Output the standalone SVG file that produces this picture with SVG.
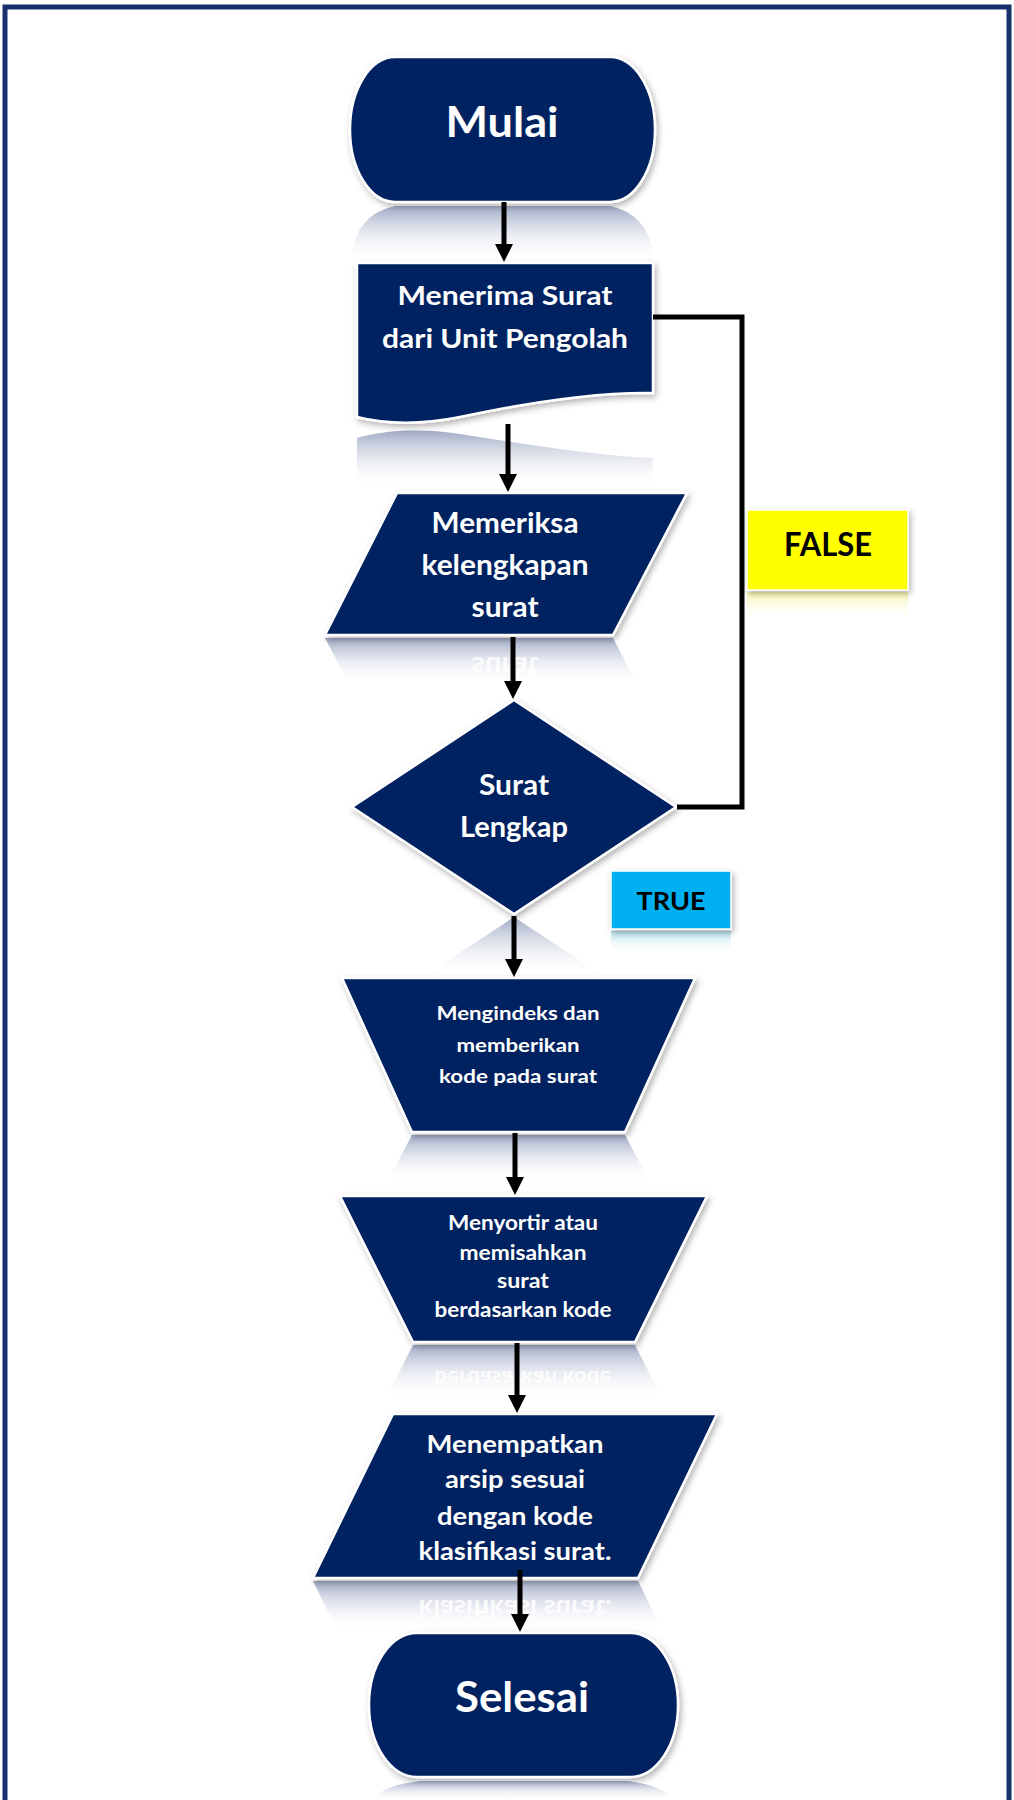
<svg xmlns="http://www.w3.org/2000/svg" width="1014" height="1800" viewBox="0 0 1014 1800">
<style>
.node{fill:#002060;stroke:#ffffff;stroke-width:2.5;filter:url(#sh)}
.refl{fill:url(#rg);stroke:none}
.t{font-family:Lato,"Liberation Sans",sans-serif;font-weight:bold;fill:#ffffff;text-anchor:middle}
.rt{font-family:Lato,"Liberation Sans",sans-serif;font-weight:bold;fill:#ffffff;fill-opacity:0.85;text-anchor:middle}
.lbl{font-family:Lato,"Liberation Sans",sans-serif;font-weight:bold;fill:#000000;text-anchor:middle}
.con{fill:none;stroke:#000000;stroke-width:5}
.arr{marker-end:url(#ah)}
</style>
<defs>
<filter id="sh" x="-10%" y="-10%" width="125%" height="130%">
<feDropShadow dx="2" dy="3" stdDeviation="3" flood-color="#000000" flood-opacity="0.3"/>
</filter>
<linearGradient id="rg" x1="0" y1="0" x2="0" y2="1">
<stop offset="0" stop-color="#8f9bbb" stop-opacity="0.85"/>
<stop offset="1" stop-color="#ffffff" stop-opacity="0"/>
</linearGradient>
<linearGradient id="ry" x1="0" y1="0" x2="0" y2="1">
<stop offset="0" stop-color="#f2f27a" stop-opacity="0.6"/>
<stop offset="1" stop-color="#ffffff" stop-opacity="0"/>
</linearGradient>
<linearGradient id="rc" x1="0" y1="0" x2="0" y2="1">
<stop offset="0" stop-color="#7fcfe8" stop-opacity="0.6"/>
<stop offset="1" stop-color="#ffffff" stop-opacity="0"/>
</linearGradient>
<marker id="ah" markerUnits="userSpaceOnUse" markerWidth="18" markerHeight="18" refX="2" refY="9" orient="auto">
<path d="M0,0 L18,9 L0,18 Z" fill="#000000"/>
</marker>
</defs>
<rect x="0" y="0" width="1014" height="1800" fill="#ffffff"/>
<rect x="5" y="7" width="1004" height="1800" fill="none" stroke="#17306b" stroke-width="5"/>

<g id="reflections">
<path class="refl" d="M395,206 H610 Q650,214 655,262 H350 Q355,214 395,206 Z"/>
<path class="refl" d="M357,438 C385,430 420,428 460,434 C530,445 600,456 653,458 V488 H357 Z"/>
<path class="refl" d="M325,638 H613 L637,684 H349 Z"/>
<path class="refl" d="M514,917 L605,977 H423 Z"/>
<path class="refl" d="M412,1135 H625 L650,1182 H387 Z"/>
<path class="refl" d="M413,1345 H635 L662,1398 H386 Z"/>
<path class="refl" d="M313,1581 H638 L662,1630 H337 Z"/>
<path class="refl" d="M420,1781 H628 Q665,1786 672,1800 H374 Q380,1786 420,1781 Z"/>
<rect x="747" y="592" width="161" height="28" fill="url(#ry)"/>
<rect x="611" y="931" width="120" height="22" fill="url(#rc)"/>
<text class="rt" x="505" y="617" font-size="28" textLength="67" lengthAdjust="spacingAndGlyphs" transform="matrix(1 0 0 -1 0 1274)">surat</text>
<text class="rt" x="523" y="1317" font-size="21" textLength="177" lengthAdjust="spacingAndGlyphs" transform="matrix(1 0 0 -1 0 2688)">berdasarkan kode</text>
<text class="rt" x="515" y="1560" font-size="25" textLength="193" lengthAdjust="spacingAndGlyphs" transform="matrix(1 0 0 -1 0 3160)">klasifikasi surat.</text>
</g>

<g id="n-mulai">
<rect class="node" x="350" y="57" width="305" height="145" rx="45" ry="72.5"/>
<text class="t" x="502" y="137" font-size="42" textLength="113" lengthAdjust="spacingAndGlyphs">Mulai</text>
</g>

<g id="n-menerima">
<path class="node" d="M357,263 H653 V393 C600,392 530,402 460,417 C420,425 385,424 357,417 Z"/>
<text class="t" x="505" y="305" font-size="26" textLength="215" lengthAdjust="spacingAndGlyphs">Menerima Surat</text>
<text class="t" x="505" y="348" font-size="26" textLength="246" lengthAdjust="spacingAndGlyphs">dari Unit Pengolah</text>
</g>

<g id="n-memeriksa">
<path class="node" d="M397,493 L687,493 L613,635 L325,635 Z"/>
<text class="t" x="505" y="533" font-size="28.5" textLength="147" lengthAdjust="spacingAndGlyphs">Memeriksa</text>
<text class="t" x="505" y="575" font-size="28.5" textLength="167" lengthAdjust="spacingAndGlyphs">kelengkapan</text>
<text class="t" x="505" y="617" font-size="28.5" textLength="67" lengthAdjust="spacingAndGlyphs">surat</text>
</g>

<g id="n-lengkap">
<path class="node" d="M514,700 L676,807 L514,914 L352,807 Z"/>
<text class="t" x="514" y="795" font-size="28.5" textLength="70" lengthAdjust="spacingAndGlyphs">Surat</text>
<text class="t" x="514" y="837" font-size="28.5" textLength="108" lengthAdjust="spacingAndGlyphs">Lengkap</text>
</g>

<g id="n-false">
<rect x="747" y="510" width="161" height="80" fill="#ffff00" stroke="#ffffff" stroke-width="1.5" filter="url(#sh)"/>
<text class="lbl" x="828" y="556" font-size="32" textLength="88" lengthAdjust="spacingAndGlyphs">FALSE</text>
</g>

<g id="n-true">
<rect x="611" y="871" width="120" height="58" fill="#00b0f0" stroke="#ffffff" stroke-width="1.5" filter="url(#sh)"/>
<text class="lbl" x="671" y="910" font-size="25.5" textLength="69" lengthAdjust="spacingAndGlyphs">TRUE</text>
</g>

<g id="n-mengindeks">
<path class="node" d="M342,978 L695,978 L625,1132 L412,1132 Z"/>
<text class="t" x="518" y="1020" font-size="19.5" textLength="163" lengthAdjust="spacingAndGlyphs">Mengindeks dan</text>
<text class="t" x="518" y="1052" font-size="19.5" textLength="123" lengthAdjust="spacingAndGlyphs">memberikan</text>
<text class="t" x="518" y="1083" font-size="19.5" textLength="158" lengthAdjust="spacingAndGlyphs">kode pada surat</text>
</g>

<g id="n-menyortir">
<path class="node" d="M340,1196 L707,1196 L635,1342 L413,1342 Z"/>
<text class="t" x="523" y="1230" font-size="21.5" textLength="150" lengthAdjust="spacingAndGlyphs">Menyortir atau</text>
<text class="t" x="523" y="1260" font-size="21.5" textLength="127" lengthAdjust="spacingAndGlyphs">memisahkan</text>
<text class="t" x="523" y="1288" font-size="21.5" textLength="52" lengthAdjust="spacingAndGlyphs">surat</text>
<text class="t" x="523" y="1317" font-size="21.5" textLength="177" lengthAdjust="spacingAndGlyphs">berdasarkan kode</text>
</g>

<g id="n-menempatkan">
<path class="node" d="M393,1414 L717,1414 L638,1578 L313,1578 Z"/>
<text class="t" x="515" y="1453" font-size="25" textLength="177" lengthAdjust="spacingAndGlyphs">Menempatkan</text>
<text class="t" x="515" y="1488" font-size="25" textLength="140" lengthAdjust="spacingAndGlyphs">arsip sesuai</text>
<text class="t" x="515" y="1525" font-size="25" textLength="156" lengthAdjust="spacingAndGlyphs">dengan kode</text>
<text class="t" x="515" y="1560" font-size="25" textLength="193" lengthAdjust="spacingAndGlyphs">klasifikasi surat.</text>
</g>

<g id="n-selesai">
<rect class="node" x="369" y="1633" width="309" height="144" rx="48" ry="72"/>
<text class="t" x="522" y="1712" font-size="42" textLength="134" lengthAdjust="spacingAndGlyphs">Selesai</text>
</g>

<g id="connectors">
<path class="con arr" d="M504,202 V246"/>
<path class="con arr" d="M508,424 V476"/>
<path class="con arr" d="M513,637 V683"/>
<path class="con arr" d="M514,916 V961"/>
<path class="con arr" d="M515,1133 V1179"/>
<path class="con arr" d="M517,1343 V1397"/>
<path class="con arr" d="M520,1570 V1616"/>
<path class="con" d="M653,317 H742 V807 H677"/>
</g>
</svg>
